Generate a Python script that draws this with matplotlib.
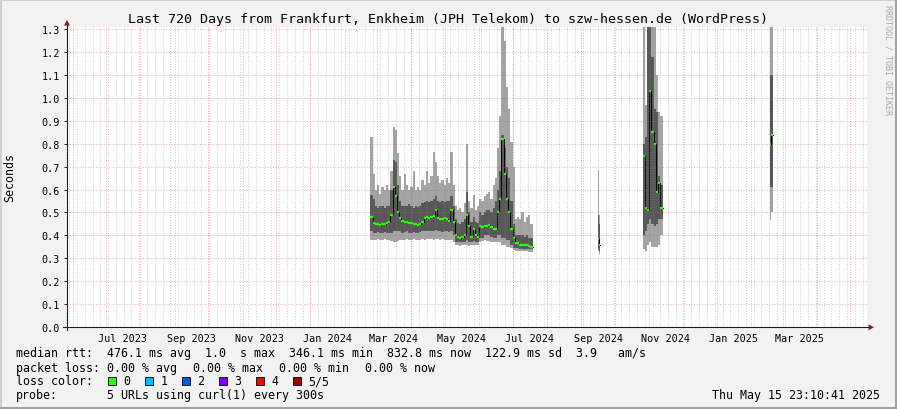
import numpy as np
import pandas as pd
import matplotlib
matplotlib.use('Agg')
import matplotlib.pyplot as plt
import matplotlib.dates as mdates
from matplotlib.patches import Rectangle, Polygon
from matplotlib.lines import Line2D

plt.rcParams['font.family'] = ['DejaVu Sans Mono', 'DejaVu Sans']

# --- data -------------------------------------------------------------
t_start = pd.Timestamp('2023-05-26 23:10:41')
t_end = pd.Timestamp('2025-05-15 23:10:41')

# main block Feb - Jul 2024, one column every 2 days
main_dates = pd.date_range('2024-02-24', periods=73, freq='2D')
main_p1 = [0.38, 0.38, 0.38, 0.385, 0.38, 0.38, 0.385, 0.38, 0.38, 0.375,
           0.37, 0.37, 0.375, 0.38, 0.38, 0.38, 0.385, 0.38, 0.38, 0.385,
           0.38, 0.38, 0.38, 0.385, 0.38, 0.385, 0.385, 0.385, 0.38, 0.385,
           0.385, 0.38, 0.385, 0.38, 0.38, 0.38, 0.38, 0.37, 0.356, 0.356,
           0.355, 0.356, 0.356, 0.36, 0.355, 0.356, 0.36, 0.356, 0.356, 0.37,
           0.375, 0.38, 0.375, 0.375, 0.37, 0.37, 0.37, 0.37, 0.37, 0.36,
           0.36, 0.35, 0.35, 0.345, 0.335, 0.33, 0.33, 0.33, 0.33, 0.33,
           0.33, 0.328, 0.327]
main_p2 = [0.42, 0.41, 0.41, 0.415, 0.41, 0.41, 0.415, 0.41, 0.41, 0.41,
           0.42, 0.42, 0.42, 0.42, 0.41, 0.415, 0.42, 0.41, 0.41, 0.415,
           0.41, 0.41, 0.415, 0.42, 0.42, 0.42, 0.42, 0.42, 0.42, 0.425,
           0.42, 0.42, 0.415, 0.42, 0.42, 0.415, 0.42, 0.40, 0.37, 0.37,
           0.37, 0.37, 0.37, 0.38, 0.37, 0.37, 0.375, 0.37, 0.37, 0.39,
           0.39, 0.40, 0.40, 0.40, 0.395, 0.39, 0.39, 0.40, 0.40, 0.39,
           0.39, 0.38, 0.38, 0.36, 0.345, 0.345, 0.345, 0.342, 0.342, 0.34,
           0.342, 0.34, 0.34]
main_med = [0.48, 0.455, 0.45, 0.45, 0.445, 0.45, 0.45, 0.455, 0.46, 0.49,
            0.61, 0.57, 0.50, 0.475, 0.465, 0.46, 0.46, 0.455, 0.455, 0.45,
            0.45, 0.445, 0.45, 0.46, 0.475, 0.48, 0.475, 0.48, 0.485, 0.51,
            0.475, 0.47, 0.47, 0.475, 0.47, 0.465, 0.51, 0.46, 0.40, 0.395,
            0.39, 0.395, 0.40, 0.49, 0.44, 0.395, 0.43, 0.40, 0.395, 0.44,
            0.435, 0.44, 0.44, 0.445, 0.435, 0.43, 0.43, 0.50, 0.56, 0.82,
            0.67, 0.56, 0.50, 0.43, 0.39, 0.365, 0.365, 0.36, 0.36, 0.36,
            0.36, 0.355, 0.35]
main_p4 = [0.575, 0.56, 0.53, 0.52, 0.53, 0.53, 0.52, 0.53, 0.53, 0.60,
           0.73, 0.72, 0.62, 0.55, 0.53, 0.53, 0.53, 0.535, 0.53, 0.52,
           0.53, 0.525, 0.53, 0.54, 0.545, 0.55, 0.545, 0.55, 0.56, 0.57,
           0.55, 0.545, 0.55, 0.545, 0.55, 0.55, 0.57, 0.53, 0.47, 0.455,
           0.45, 0.46, 0.47, 0.59, 0.50, 0.46, 0.48, 0.46, 0.455, 0.50,
           0.49, 0.50, 0.51, 0.51, 0.50, 0.52, 0.55, 0.60, 0.68, 0.84,
           0.78, 0.70, 0.65, 0.55, 0.45, 0.40, 0.40, 0.40, 0.40, 0.395,
           0.40, 0.39, 0.39]
main_p5 = [0.83, 0.67, 0.60, 0.62, 0.58, 0.61, 0.60, 0.62, 0.60, 0.68,
           0.875, 0.86, 0.76, 0.66, 0.60, 0.67, 0.62, 0.60, 0.61, 0.68,
           0.60, 0.61, 0.60, 0.64, 0.62, 0.68, 0.63, 0.66, 0.765, 0.72,
           0.66, 0.63, 0.64, 0.62, 0.65, 0.63, 0.765, 0.62, 0.53, 0.51,
           0.52, 0.50, 0.54, 0.80, 0.55, 0.52, 0.575, 0.51, 0.53, 0.56,
           0.55, 0.57, 0.58, 0.59, 0.56, 0.62, 0.65, 0.78, 0.92, 1.35,
           1.25, 1.05, 0.95, 0.81, 0.70, 0.47, 0.48, 0.47, 0.50, 0.46,
           0.48, 0.49, 0.45]

# short block in September 2024, daily
sep_dates = pd.to_datetime(['2024-09-16', '2024-09-17'])
sep_p1 = [0.33, 0.32]
sep_p2 = [0.34, 0.33]
sep_med = [0.385, 0.36]
sep_p4 = [0.49, 0.45]
sep_p5 = [0.684, 0.49]

# block end of Oct / early Nov 2024, every 2 days
nov_dates = pd.date_range('2024-10-26', periods=9, freq='2D')
nov_p1 = [0.34, 0.33, 0.36, 0.37, 0.35, 0.35, 0.35, 0.36, 0.40]
nov_p2 = [0.40, 0.42, 0.45, 0.47, 0.45, 0.44, 0.45, 0.47, 0.47]
nov_med = [0.745, 0.52, 0.51, 1.03, 0.85, 0.80, 0.59, 0.63, 0.52]
nov_p4 = [0.80, 0.83, 1.40, 1.40, 1.18, 0.95, 0.94, 0.66, 0.62]
nov_p5 = [1.40, 0.97, 1.40, 1.40, 1.40, 1.40, 1.10, 0.94, 0.92]

# single column February 2025, daily
feb_dates = pd.to_datetime(['2025-02-18', '2025-02-19'])
feb_p1 = [0.466, 0.50]
feb_p2 = [0.61, 0.61]
feb_med = [0.80, 0.837]
feb_p4 = [1.10, 1.10]
feb_p5 = [1.40, 1.40]

loss_labels = ['0', '1', '2', '3', '4', '5/5']
loss_colors = ['#26ff00', '#00b8ff', '#0059ff', '#7e00ff', '#ff0000', '#a00000']

title = 'Last 720 Days from Frankfurt, Enkheim (JPH Telekom) to szw-hessen.de (WordPress)'

# --- figure -------------------------------------------------------------
W, H = 897, 410
LIGHT = '#a4a4a4'
DARK = '#585858'
GRID = (0.56, 0.56, 0.56, 0.4)
MGRID = (0.87, 0.31, 0.31, 0.45)
AXIS = '#1f1f1f'
ARROW = '#801f1f'
DOTS = (0, (1, 1.6))


def fx(x):
    return x / W


def fy(y):
    return 1 - y / H


fig = plt.figure(figsize=(W / 100, H / 100), dpi=100)
fig.patch.set_facecolor('#f2f2f2')
ax = fig.add_axes([fx(67), fy(328), 800 / W, 300 / H])
ax.set_facecolor('white')
for s in ax.spines.values():
    s.set_visible(False)

x0 = mdates.date2num(t_start.to_pydatetime())
x1 = mdates.date2num(t_end.to_pydatetime())
ax.set_xlim(x0, x1)
ax.set_ylim(0, 1.31)


def smoke(dates, p1, p2, med, p4, p5, step_days):
    x = [mdates.date2num(d.to_pydatetime()) for d in dates]
    x = x + [x[-1] + step_days]

    def ext(v):
        return list(v) + [v[-1]]

    ax.fill_between(x, ext(p1), ext(p5), step='post', color=LIGHT, lw=0, zorder=2)
    ax.fill_between(x, ext(p2), ext(p4), step='post', color=DARK, lw=0, zorder=3)
    ax.step(x, ext(med), where='post', color='black', lw=0.7, zorder=4)
    ax.hlines(med, x[:-1], x[1:], color=loss_colors[0], lw=1.6, zorder=5)


smoke(main_dates, main_p1, main_p2, main_med, main_p4, main_p5, 2)
smoke(sep_dates, sep_p1, sep_p2, sep_med, sep_p4, sep_p5, 1)
smoke(nov_dates, nov_p1, nov_p2, nov_med, nov_p4, nov_p5, 2)
smoke(feb_dates, feb_p1, feb_p2, feb_med, feb_p4, feb_p5, 1)

# grid, drawn over the smoke like rrdtool does
for d in pd.date_range(t_start.normalize(), t_end, freq='W-MON'):
    ax.axvline(mdates.date2num(d.to_pydatetime()), color=GRID, lw=0.72,
               ls=DOTS, zorder=6)
for d in pd.date_range('2023-06-01', t_end, freq='MS'):
    ax.axvline(mdates.date2num(d.to_pydatetime()), color=MGRID, lw=0.72,
               ls=DOTS, zorder=7)
for v in np.arange(1, 14) / 10:
    ax.axhline(v, color=MGRID, lw=0.72, ls=DOTS, zorder=7)

# y ticks
ax.set_yticks(np.arange(0, 14) / 10)
ax.set_yticklabels(['%.1f' % v for v in np.arange(0, 14) / 10])
ax.tick_params(axis='y', length=2.2, width=0.7, color=AXIS, pad=2.9,
               labelsize=7.3)

# x labels centered in the month, every 2 months
lab_months = [d for d in pd.date_range('2023-07-01', t_end, freq='2MS')
              if d + pd.Timedelta(days=30) < t_end]
ax.set_xticks([mdates.date2num((d + pd.Timedelta(days=15)).to_pydatetime())
               for d in lab_months])
ax.set_xticklabels([d.strftime('%b %Y') for d in lab_months])
ax.tick_params(axis='x', length=0, pad=4, labelsize=7.3)

# axes lines and arrows
fig.add_artist(Line2D([fx(63), fx(868)], [fy(328.3), fy(328.3)], color=AXIS, lw=0.8))
fig.add_artist(Line2D([fx(67), fx(67)], [fy(331), fy(26)], color=AXIS, lw=0.8))
fig.add_artist(Polygon([[fx(67), fy(21)], [fx(64), fy(26.5)], [fx(70), fy(26.5)]],
                       closed=True, color=ARROW, lw=0))
fig.add_artist(Polygon([[fx(874), fy(328.3)], [fx(868.5), fy(325.3)], [fx(868.5), fy(331.3)]],
                       closed=True, color=ARROW, lw=0))

# texts
fig.text(fx(448.3), fy(19), title, ha='center', va='center', fontsize=9.6)
fig.text(fx(10), fy(178), 'Seconds', rotation=90, ha='center', va='center', fontsize=8.4)
fig.text(fx(888), fy(60), 'RRDTOOL / TOBI OETIKER', rotation=270, ha='center',
         va='center', fontsize=6, color='#a8a8a8')

LS = 8.4
fig.text(fx(16), fy(354),
         'median rtt:  476.1 ms avg  1.0  s max  346.1 ms min  832.8 ms now  122.9 ms sd  3.9   am/s',
         ha='left', va='center', fontsize=LS)
fig.text(fx(16), fy(368.3), 'packet loss:', ha='left', va='center', fontsize=LS)
for i, txt in enumerate(['0.00 % avg', '0.00 % max', '0.00 % min', '0.00 % now']):
    fig.text(fx(107.3 + 86 * i), fy(368.3), txt, ha='left', va='center', fontsize=LS)
fig.text(fx(16), fy(381.7), 'loss color:', ha='left', va='center', fontsize=LS)
for i, (lab, col) in enumerate(zip(loss_labels, loss_colors)):
    bx = 108.3 + 37 * i
    fig.add_artist(Rectangle((fx(bx), fy(385.5)), 7.5 / W, 7.5 / H,
                             facecolor=col, edgecolor='black', lw=0.6))
    fig.text(fx(bx + 15), fy(381.7), lab, ha='left', va='center', fontsize=LS)
fig.text(fx(16), fy(396), 'probe:', ha='left', va='center', fontsize=LS)
fig.text(fx(107.3), fy(396), '5 URLs using curl(1) every 300s', ha='left',
         va='center', fontsize=LS)
fig.text(fx(880), fy(396), 'Thu May 15 23:10:41 2025', ha='right', va='center',
         fontsize=LS)

# 3d frame of the image
fig.add_artist(Line2D([0, 1], [fy(0.7), fy(0.7)], color='#cfcfcf', lw=1.4))
fig.add_artist(Line2D([fx(0.7), fx(0.7)], [0, 1], color='#cfcfcf', lw=1.4))
fig.add_artist(Line2D([0, 1], [fy(409.3), fy(409.3)], color='#9e9e9e', lw=1.4))
fig.add_artist(Line2D([fx(896.3), fx(896.3)], [0, 1], color='#9e9e9e', lw=1.4))

fig.savefig('out.png', dpi=100, facecolor=fig.get_facecolor())
